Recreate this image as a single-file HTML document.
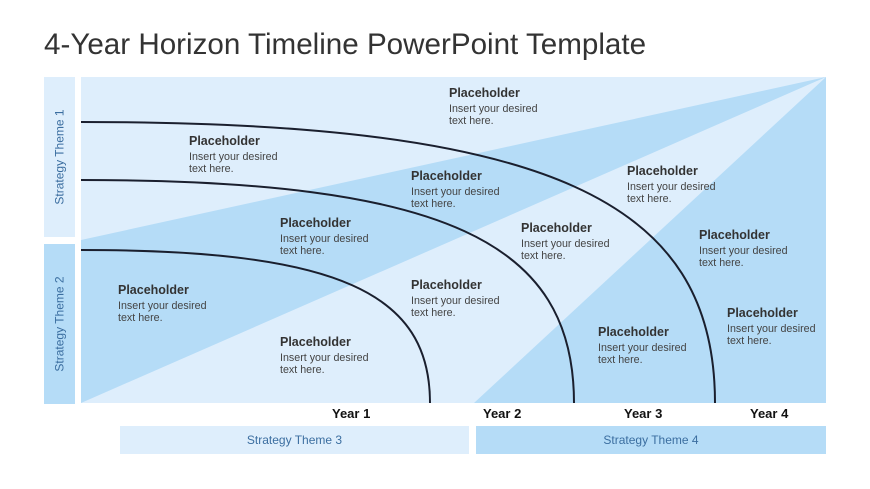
<!DOCTYPE html>
<html><head><meta charset="utf-8"><style>
body{margin:0;width:870px;height:489px;background:#fff;font-family:"Liberation Sans",sans-serif;position:relative;overflow:hidden}
.t{position:absolute;left:44px;top:28px;font-size:29.6px;color:#333;white-space:nowrap}
.p{position:absolute;color:#444;font-size:10.7px;line-height:11.5px}
.p b{display:block;font-size:12.5px;color:#333;margin-bottom:4px;line-height:14px}
.yr{position:absolute;top:406px;font-size:13px;font-weight:bold;color:#111}
.bar{position:absolute;color:#3b6ea0;font-size:12px;display:flex;align-items:center;justify-content:center}
.vt{position:absolute;color:#3b6ea0;font-size:12px;display:flex;align-items:center;justify-content:center}
.vt span{transform:rotate(-90deg);white-space:nowrap}
</style></head><body>
<div class="t">4-Year Horizon Timeline PowerPoint Template</div>
<div class="vt" style="left:44px;top:77px;width:31px;height:160px;background:#deeefc"><span>Strategy Theme 1</span></div>
<div class="vt" style="left:44px;top:244px;width:31px;height:160px;background:#b5dcf7"><span>Strategy Theme 2</span></div>
<svg style="position:absolute;left:0;top:0" width="870" height="489">
<rect x="81" y="77" width="745" height="326" fill="#deeefc"/>
<polygon points="81,240 826,77 81,403" fill="#b5dcf7"/>
<polygon points="474,403 826,77 826,403" fill="#b5dcf7"/>
<g fill="none" stroke="#1a1f2e" stroke-width="2">
<path d="M81,122 C550,122 715,200 715,403"/>
<path d="M81,180 C446,180 574,242 574,403"/>
<path d="M81,250 C339,250 430,293 430,403"/>
</g>
</svg>
<div class="p" style="left:449px;top:86px"><b>Placeholder</b>Insert your desired<br>text here.</div>
<div class="p" style="left:189px;top:134px"><b>Placeholder</b>Insert your desired<br>text here.</div>
<div class="p" style="left:411px;top:169px"><b>Placeholder</b>Insert your desired<br>text here.</div>
<div class="p" style="left:280px;top:216px"><b>Placeholder</b>Insert your desired<br>text here.</div>
<div class="p" style="left:118px;top:283px"><b>Placeholder</b>Insert your desired<br>text here.</div>
<div class="p" style="left:411px;top:278px"><b>Placeholder</b>Insert your desired<br>text here.</div>
<div class="p" style="left:280px;top:335px"><b>Placeholder</b>Insert your desired<br>text here.</div>
<div class="p" style="left:627px;top:164px"><b>Placeholder</b>Insert your desired<br>text here.</div>
<div class="p" style="left:521px;top:221px"><b>Placeholder</b>Insert your desired<br>text here.</div>
<div class="p" style="left:699px;top:228px"><b>Placeholder</b>Insert your desired<br>text here.</div>
<div class="p" style="left:598px;top:325px"><b>Placeholder</b>Insert your desired<br>text here.</div>
<div class="p" style="left:727px;top:306px"><b>Placeholder</b>Insert your desired<br>text here.</div>
<div class="yr" style="left:332px">Year 1</div>
<div class="yr" style="left:483px">Year 2</div>
<div class="yr" style="left:624px">Year 3</div>
<div class="yr" style="left:750px">Year 4</div>
<div class="bar" style="left:120px;top:426px;width:349px;height:28px;background:#deeefc">Strategy Theme 3</div>
<div class="bar" style="left:476px;top:426px;width:350px;height:28px;background:#b5dcf7">Strategy Theme 4</div>
</body></html>
